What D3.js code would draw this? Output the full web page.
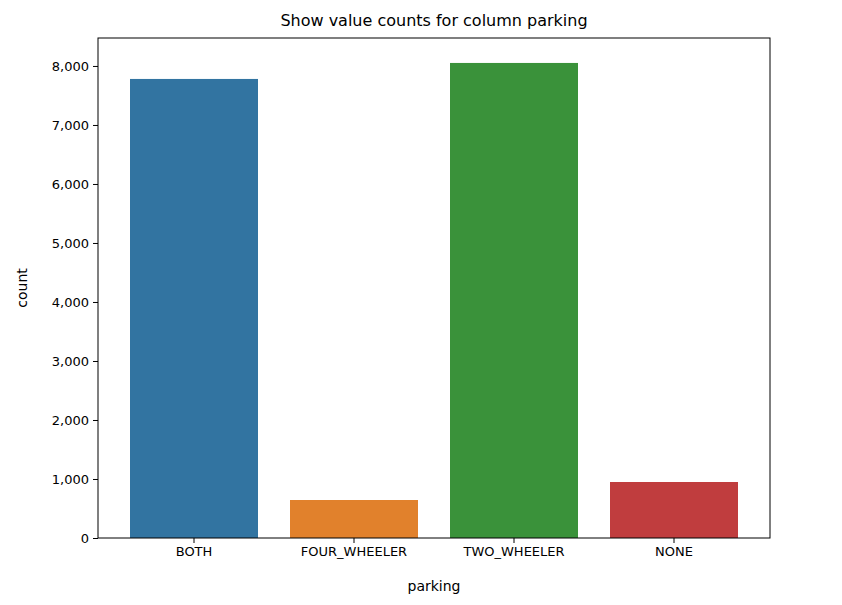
<!DOCTYPE html>
<html><head><meta charset="utf-8">
<script src="https://cdn.jsdelivr.net/npm/d3@7"></script>
<style>body{margin:0;background:#fff;font-family:"DejaVu Sans",sans-serif}</style>
</head><body><svg id="c" width="842" height="605"></svg>
<script>
const categories = ["BOTH","FOUR_WHEELER","TWO_WHEELER","NONE"];
const counts = [7780, 644, 8051, 949];
const colors = ["#3274a1","#e1812c","#3a923a","#c03d3e"];
const yTicks = [0,1000,2000,3000,4000,5000,6000,7000,8000];

const svg = d3.select("#c");
const L=98,R=770,T=38,B=538;
const x = d3.scaleBand().domain(categories).range([L,R]).padding(0.2);
const y = d3.scaleLinear().domain([0,8474]).range([B,T]);

svg.selectAll("rect.bar").data(categories).enter().append("rect")
 .attr("x",d=>x(d)).attr("width",x.bandwidth())
 .attr("y",(d,i)=>y(counts[i])).attr("height",(d,i)=>B-y(counts[i]))
 .attr("fill",(d,i)=>colors[i]);

const ya = svg.append("g").attr("transform",`translate(${L},0)`).call(d3.axisLeft(y).tickValues(yTicks).tickSize(5).tickPadding(4));
const xa = svg.append("g").attr("transform",`translate(0,${B})`).call(d3.axisBottom(x).tickSize(5).tickPadding(4));
[ya,xa].forEach(a=>{a.select(".domain").remove();a.selectAll("text").attr("font-size",13).attr("font-family","DejaVu Sans").attr("fill","#000");a.selectAll("line").attr("stroke","#000");});

svg.append("rect").attr("x",L).attr("y",T).attr("width",R-L).attr("height",B-T).attr("fill","none").attr("stroke","#000").attr("stroke-width",1);

svg.append("text").attr("x",(L+R)/2).attr("y",26).attr("text-anchor","middle").attr("font-size",16).text("Show value counts for column parking");
svg.append("text").attr("x",(L+R)/2).attr("y",591).attr("text-anchor","middle").attr("font-size",14).text("parking");
svg.append("text").attr("transform",`translate(27,${(T+B)/2}) rotate(-90)`).attr("text-anchor","middle").attr("font-size",14).text("count");
</script></body></html>
